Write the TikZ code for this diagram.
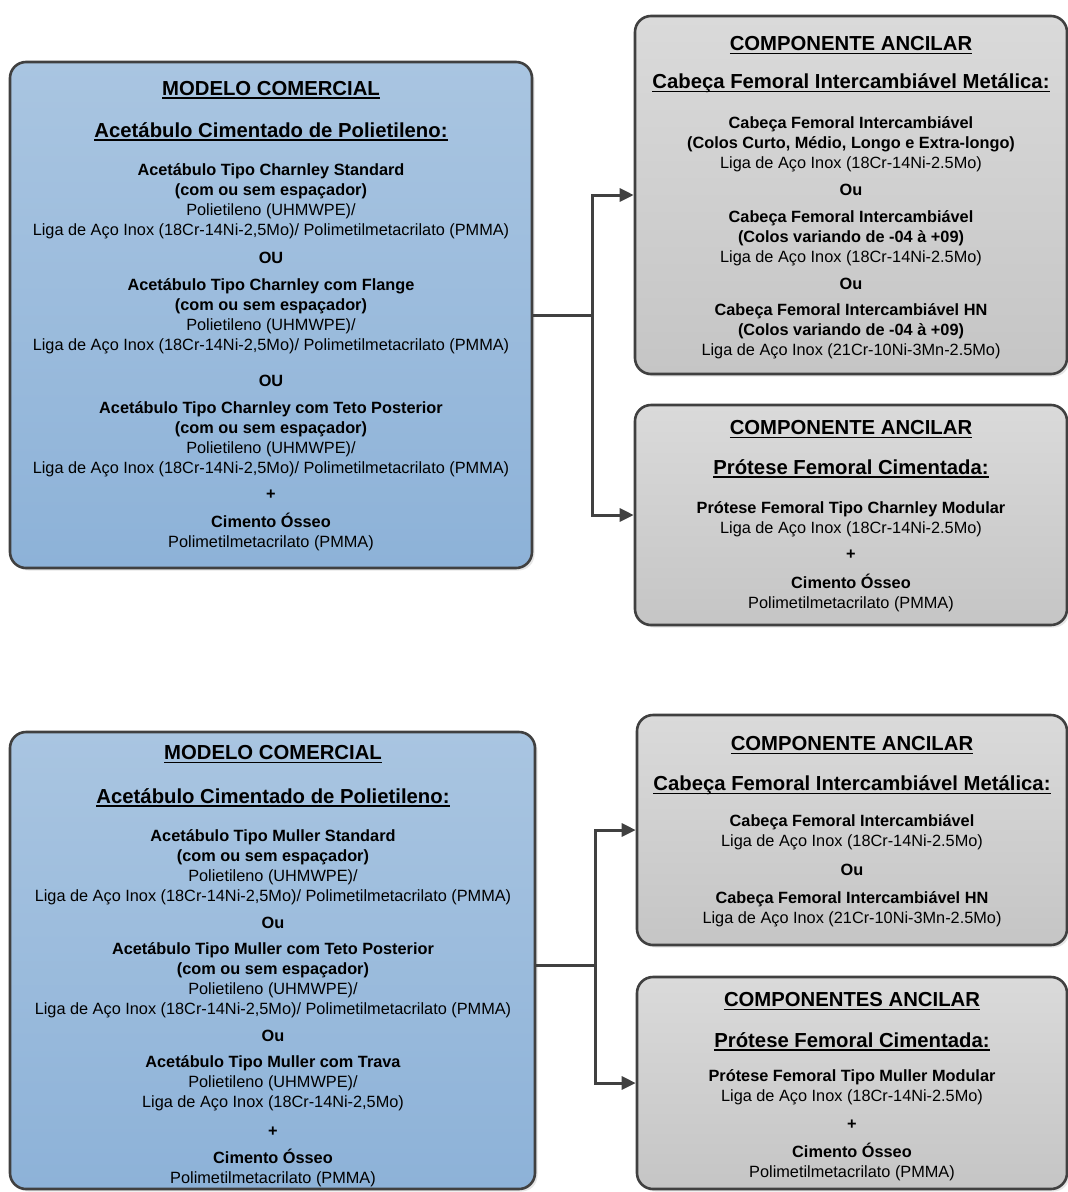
\documentclass[tikz,border=0pt]{standalone}
\usepackage{fontspec}
\setmainfont{Liberation Sans}
\usetikzlibrary{arrows.meta,shadows}

\definecolor{blueTop}{HTML}{A9C5E1}
\definecolor{blueBot}{HTML}{8DB2D8}
\definecolor{grayTop}{HTML}{DADADA}
\definecolor{grayBot}{HTML}{C5C5C5}
\definecolor{lineGray}{HTML}{404040}

\newcommand{\bodyfont}{\fontsize{16.3}{20}\selectfont}
\newcommand{\headfont}{\fontsize{20.3}{24}\selectfont\bfseries}
\newcommand{\uln}[1]{\setbox0=\hbox{#1}\rlap{\rule[-3.4pt]{\wd0}{1.5pt}}\box0}

\begin{document}
\begin{tikzpicture}[x=1pt,y=-1pt,
  panel/.style={rectangle,rounded corners=16pt,draw=lineGray,line width=2.6pt,inner sep=0pt,
    drop shadow={shadow xshift=2.5pt,shadow yshift=-2.5pt,opacity=0.2}},
  modelo/.style={panel,top color=blueTop,bottom color=blueBot},
  ancilar/.style={panel,top color=grayTop,bottom color=grayBot},
  head/.style={font=\headfont,inner sep=0pt},
  body/.style={font=\bodyfont,align=center,inner sep=0pt},
  bodyb/.style={font=\bodyfont\bfseries,inner sep=0pt},
  link/.style={draw=lineGray,line width=3pt},
  arr/.style={link,-{Triangle[length=14pt,width=13pt]}}]
  \useasboundingbox (0,0) rectangle (1068,1192);

  \node[modelo,minimum width=522pt,minimum height=506pt] (mod1) at (271,315) {};
  \node[ancilar,minimum width=432pt,minimum height=358pt] (anc1) at (851,195) {};
  \node[ancilar,minimum width=432pt,minimum height=220pt] (anc2) at (851,515) {};
  \node[modelo,minimum width=525pt,minimum height=457pt] (mod2) at (272.5,960.5) {};
  \node[ancilar,minimum width=430pt,minimum height=230pt] (anc3) at (852,830) {};
  \node[ancilar,minimum width=430pt,minimum height=212pt] (anc4) at (852,1083) {};

  \node[head] (mod1h) at (271,90) {\uln{MODELO COMERCIAL}};
  \node[head] (mod1s) at (271,131.5) {\uln{Acetábulo Cimentado de Polietileno:}};
  \node[body] (mod1a) at (271,201) {\textbf{Acetábulo Tipo Charnley Standard}\\\textbf{(com ou sem espaçador)}\\Polietileno (UHMWPE)/\\Liga de Aço Inox (18Cr-14Ni-2,5Mo)/ Polimetilmetacrilato (PMMA)};
  \node[bodyb] (mod1o1) at (271,258) {OU};
  \node[body] (mod1b) at (271,316.5) {\textbf{Acetábulo Tipo Charnley com Flange}\\\textbf{(com ou sem espaçador)}\\Polietileno (UHMWPE)/\\Liga de Aço Inox (18Cr-14Ni-2,5Mo)/ Polimetilmetacrilato (PMMA)};
  \node[bodyb] (mod1o2) at (271,381) {OU};
  \node[body] (mod1c) at (271,439) {\textbf{Acetábulo Tipo Charnley com Teto Posterior}\\\textbf{(com ou sem espaçador)}\\Polietileno (UHMWPE)/\\Liga de Aço Inox (18Cr-14Ni-2,5Mo)/ Polimetilmetacrilato (PMMA)};
  \node[bodyb] (mod1p) at (271,495) {+};
  \node[body] (mod1d) at (271,532) {\textbf{Cimento Ósseo}\\Polimetilmetacrilato (PMMA)};

  \node[head] (anc1h) at (851,45.5) {\uln{COMPONENTE ANCILAR}};
  \node[head] (anc1s) at (851,83.5) {\uln{Cabeça Femoral Intercambiável Metálica:}};
  \node[body] (anc1a) at (851,144) {\textbf{Cabeça Femoral Intercambiável}\\\textbf{(Colos Curto, Médio, Longo e Extra-longo)}\\Liga de Aço Inox (18Cr-14Ni-2.5Mo)};
  \node[bodyb] (anc1o1) at (851,190) {Ou};
  \node[body] (anc1b) at (851,238) {\textbf{Cabeça Femoral Intercambiável}\\\textbf{(Colos variando de -04 à +09)}\\Liga de Aço Inox (18Cr-14Ni-2.5Mo)};
  \node[bodyb] (anc1o2) at (851,284) {Ou};
  \node[body] (anc1c) at (851,331) {\textbf{Cabeça Femoral Intercambiável HN}\\\textbf{(Colos variando de -04 à +09)}\\Liga de Aço Inox (21Cr-10Ni-3Mn-2.5Mo)};

  \node[head] (anc2h) at (851,429.5) {\uln{COMPONENTE ANCILAR}};
  \node[head] (anc2s) at (851,468.5) {\uln{Prótese Femoral Cimentada:}};
  \node[body] (anc2a) at (851,519.5) {\textbf{Prótese Femoral Tipo Charnley Modular}\\Liga de Aço Inox (18Cr-14Ni-2.5Mo)};
  \node[bodyb] (anc2p) at (851,555) {+};
  \node[body] (anc2b) at (851,593) {\textbf{Cimento Ósseo}\\Polimetilmetacrilato (PMMA)};

  \node[head] (mod2h) at (273,754.5) {\uln{MODELO COMERCIAL}};
  \node[head] (mod2s) at (273,797.5) {\uln{Acetábulo Cimentado de Polietileno:}};
  \node[body] (mod2a) at (273,867) {\textbf{Acetábulo Tipo Muller Standard}\\\textbf{(com ou sem espaçador)}\\Polietileno (UHMWPE)/\\Liga de Aço Inox (18Cr-14Ni-2,5Mo)/ Polimetilmetacrilato (PMMA)};
  \node[bodyb] (mod2o1) at (273,923) {Ou};
  \node[body] (mod2b) at (273,980) {\textbf{Acetábulo Tipo Muller com Teto Posterior}\\\textbf{(com ou sem espaçador)}\\Polietileno (UHMWPE)/\\Liga de Aço Inox (18Cr-14Ni-2,5Mo)/ Polimetilmetacrilato (PMMA)};
  \node[bodyb] (mod2o2) at (273,1036) {Ou};
  \node[body] (mod2c) at (273,1083.5) {\textbf{Acetábulo Tipo Muller com Trava}\\Polietileno (UHMWPE)/\\Liga de Aço Inox (18Cr-14Ni-2,5Mo)};
  \node[bodyb] (mod2p) at (273,1132) {+};
  \node[body] (mod2d) at (273,1168) {\textbf{Cimento Ósseo}\\Polimetilmetacrilato (PMMA)};

  \node[head] (anc3h) at (852,745.5) {\uln{COMPONENTE ANCILAR}};
  \node[head] (anc3s) at (852,785.5) {\uln{Cabeça Femoral Intercambiável Metálica:}};
  \node[body] (anc3a) at (852,832) {\textbf{Cabeça Femoral Intercambiável}\\Liga de Aço Inox (18Cr-14Ni-2.5Mo)};
  \node[bodyb] (anc3o) at (852,870) {Ou};
  \node[body] (anc3b) at (852,909) {\textbf{Cabeça Femoral Intercambiável HN}\\Liga de Aço Inox (21Cr-10Ni-3Mn-2.5Mo)};

  \node[head] (anc4h) at (852,1001.5) {\uln{COMPONENTES ANCILAR}};
  \node[head] (anc4s) at (852,1041.5) {\uln{Prótese Femoral Cimentada:}};
  \node[body] (anc4a) at (852,1087.5) {\textbf{Prótese Femoral Tipo Muller Modular}\\Liga de Aço Inox (18Cr-14Ni-2.5Mo)};
  \node[bodyb] (anc4p) at (852,1125) {+};
  \node[body] (anc4b) at (852,1162) {\textbf{Cimento Ósseo}\\Polimetilmetacrilato (PMMA)};

  \coordinate (j1) at (592,315);
  \draw[link] (mod1.east) -- (j1);
  \draw[arr] (j1) |- (anc1.west);
  \draw[arr] (j1) |- (anc2.west);

  \coordinate (j2) at (595,965);
  \draw[link] (j2 -| mod2.east) -- (j2);
  \draw[arr] (j2) |- (anc3.west);
  \draw[arr] (j2) |- (anc4.west);
\end{tikzpicture}
\end{document}
